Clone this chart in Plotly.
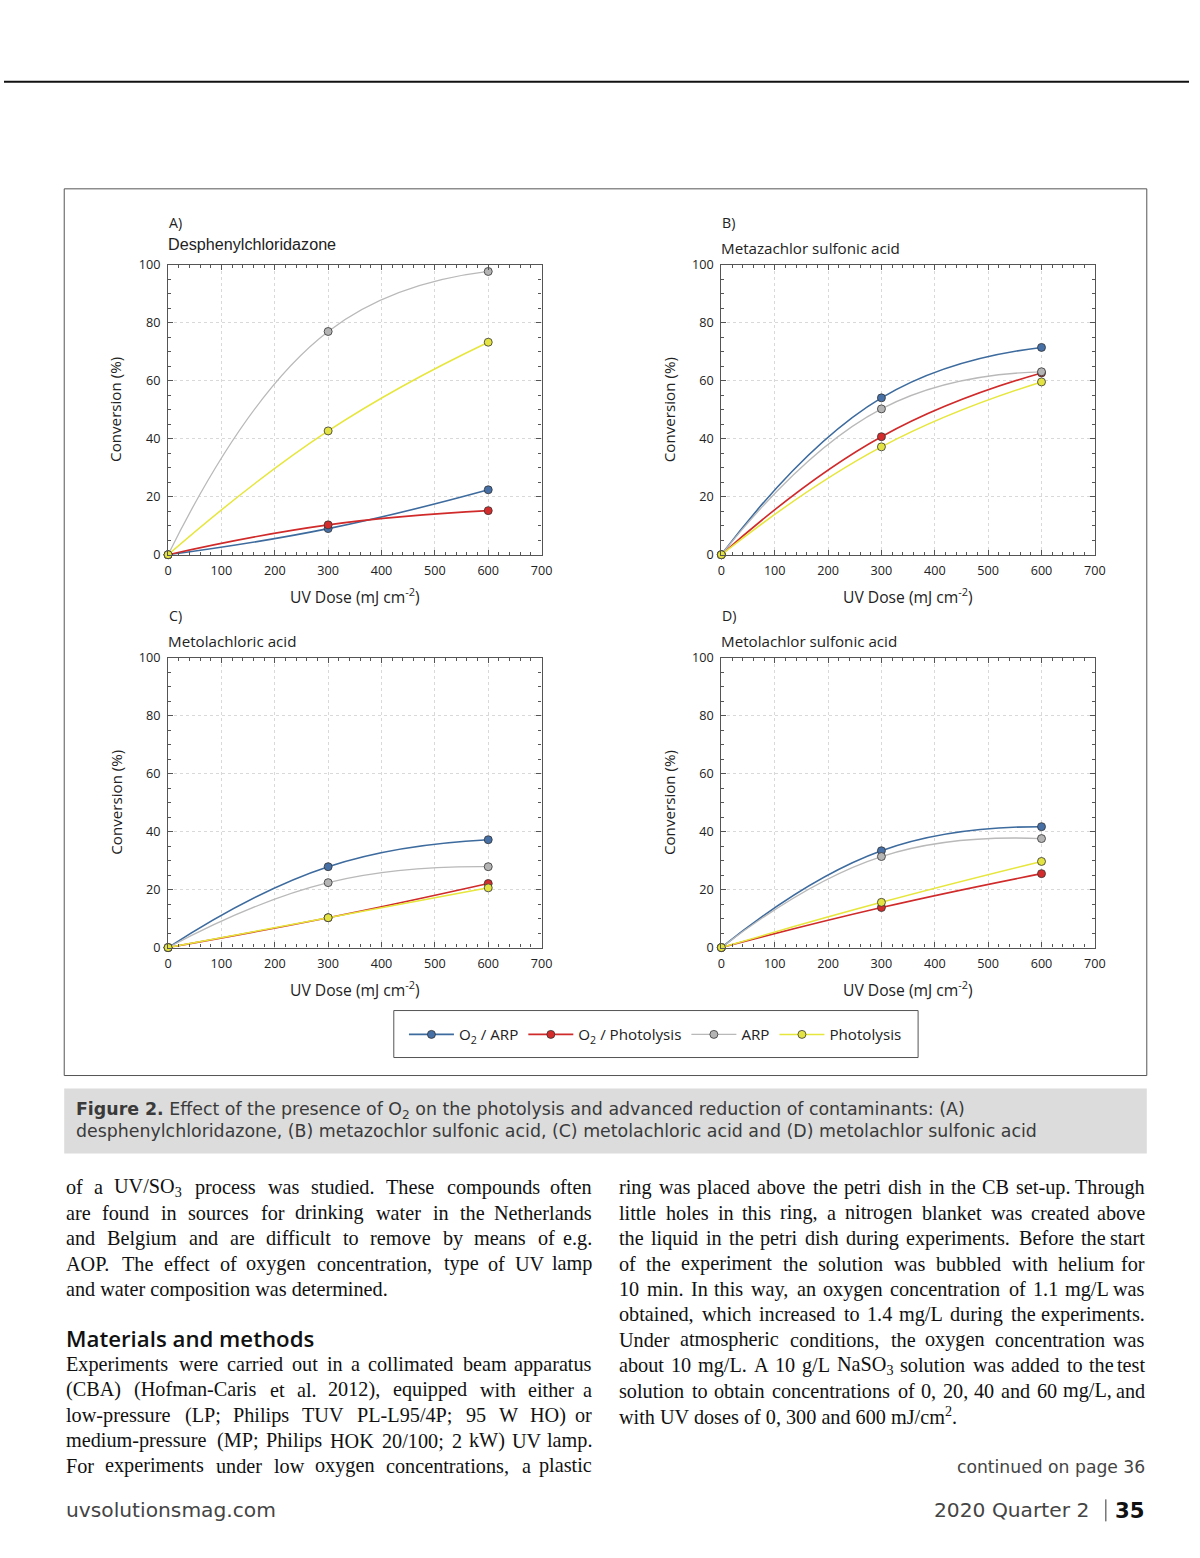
import re
import plotly.graph_objects as go

W, H = 1200, 1558

# ---------------- data ----------------
dose = [0, 300, 600]

series_names = ["O<sub>2</sub> / ARP", "O<sub>2</sub> / Photolysis", "ARP", "Photolysis"]

# Panel A: Desphenylchloridazone
a_o2_arp = [0, 9.0, 22.4]
a_o2_phot = [0, 10.3, 15.2]
a_arp = [0, 77.0, 97.7]
a_phot = [0, 42.7, 73.3]

# Panel B: Metazachlor sulfonic acid
b_o2_arp = [0, 54.1, 71.5]
b_o2_phot = [0, 40.7, 62.7]
b_arp = [0, 50.3, 63.1]
b_phot = [0, 37.2, 59.6]

# Panel C: Metolachloric acid
c_o2_arp = [0, 27.9, 37.2]
c_o2_phot = [0, 10.3, 22.1]
c_arp = [0, 22.4, 27.9]
c_phot = [0, 10.3, 20.6]

# Panel D: Metolachlor sulfonic acid
d_o2_arp = [0, 33.4, 41.7]
d_o2_phot = [0, 13.8, 25.5]
d_arp = [0, 31.4, 37.6]
d_phot = [0, 15.6, 29.7]

panel_letters = ["A)", "B)", "C)", "D)"]
panel_titles = ["Desphenylchloridazone", "Metazachlor sulfonic acid",
                "Metolachloric acid", "Metolachlor sulfonic acid"]

x_ticks = [0, 100, 200, 300, 400, 500, 600, 700]
y_ticks = [0, 20, 40, 60, 80, 100]

caption_line1 = ("<b>Figure 2.</b> Effect of the presence of O<sub>2</sub> on the photolysis "
                 "and advanced reduction of contaminants: (A)")
caption_line2 = ("desphenylchloridazone, (B) metazochlor sulfonic acid, (C) metolachloric acid "
                 "and (D) metolachlor sulfonic acid")

left_col_1 = [
    "of a UV/SO<sub>3</sub> process was studied. These compounds often",
    "are found in sources for drinking water in the Netherlands",
    "and Belgium and are difficult to remove by means of e.g.",
    "AOP. The effect of oxygen concentration, type of UV lamp",
    "and water composition was determined.",
]
heading = "Materials and methods"
left_col_2 = [
    "Experiments were carried out in a collimated beam apparatus",
    "(CBA) (Hofman-Caris et al. 2012), equipped with either a",
    "low-pressure (LP; Philips TUV PL-L95/4P; 95 W HO) or",
    "medium-pressure (MP; Philips HOK 20/100; 2 kW) UV lamp.",
    "For experiments under low oxygen concentrations, a plastic",
]
right_col = [
    "ring was placed above the petri dish in the CB set-up. Through",
    "little holes in this ring, a nitrogen blanket was created above",
    "the liquid in the petri dish during experiments. Before the start",
    "of the experiment the solution was bubbled with helium for",
    "10 min. In this way, an oxygen concentration of 1.1 mg/L was",
    "obtained, which increased to 1.4 mg/L during the experiments.",
    "Under atmospheric conditions, the oxygen concentration was",
    "about 10 mg/L. A 10 g/L NaSO<sub>3</sub> solution was added to the test",
    "solution to obtain concentrations of 0, 20, 40 and 60 mg/L, and",
    "with UV doses of 0, 300 and 600 mJ/cm<sup>2</sup>.",
]
continued = "continued on page 36"
footer_left = "uvsolutionsmag.com"
footer_right = "2020 Quarter 2"
page_no = "35"

# ---------------- page geometry helpers ----------------
# the photographed page is slightly scaled/offset; place things in target pixels
S, OX, OY = 0.9888, 2.7, 9.1

def px(x):
    return (x - OX) / S / W

def py(y):
    return 1 - (y - OY) / S / H

def fs(size):
    return size / S

colors = ["#3d6b9e", "#d02a2a", "#b9b9b9", "#e6e63c"]
mcolors = ["#4670a6", "#d42c2c", "#b4b4b4", "#e3e344"]
lwidths = [1.6, 1.6, 1.3, 1.5]

panels = [
    (a_o2_arp, a_o2_phot, a_arp, a_phot),
    (b_o2_arp, b_o2_phot, b_arp, b_phot),
    (c_o2_arp, c_o2_phot, c_arp, c_phot),
    (d_o2_arp, d_o2_phot, d_arp, d_phot),
]

# plot area pixel boxes (left, right, top, bottom)
boxes = [(167, 541, 264, 554), (721, 1095, 264, 554),
         (167, 541, 657, 947), (721, 1095, 657, 947)]

fig = go.Figure()

for i, vals in enumerate(panels):
    xa = "x" if i == 0 else f"x{i+1}"
    ya = "y" if i == 0 else f"y{i+1}"
    for j, v in enumerate(vals):
        fig.add_trace(go.Scatter(
            x=dose, y=v, xaxis=xa, yaxis=ya,
            mode="lines+markers", name=series_names[j],
            line=dict(color=colors[j], width=lwidths[j], shape="spline", smoothing=1.3),
            marker=dict(size=8, color=mcolors[j], line=dict(color="#333333", width=0.8)),
            cliponaxis=False, showlegend=(i == 0), legendrank=j,
        ))

axis_common = dict(
    showline=True, linecolor="#555555", linewidth=1.2, mirror="ticks",
    ticks="inside", ticklen=5, tickcolor="#555555", tickwidth=1,
    showgrid=True, gridcolor="#d9d9d9", griddash="dot", gridwidth=1,
    zeroline=False, tickfont=dict(family="Open Sans", size=fs(12.5), color="#222222"),
)

layout = dict(
    width=W, height=H, margin=dict(l=0, r=0, t=0, b=0),
    paper_bgcolor="white", plot_bgcolor="white", showlegend=True,
    legend=dict(orientation="h", x=px(655), y=py(1034), xanchor="center", yanchor="middle",
                borderwidth=0, bgcolor="rgba(0,0,0,0)",
                font=dict(family="Open Sans", size=fs(15), color="#222222"),
                itemwidth=45, tracegroupgap=0),
)

for i, (l, r, t, b) in enumerate(boxes):
    xk = "xaxis" if i == 0 else f"xaxis{i+1}"
    yk = "yaxis" if i == 0 else f"yaxis{i+1}"
    ya = "y" if i == 0 else f"y{i+1}"
    xa = "x" if i == 0 else f"x{i+1}"
    layout[xk] = dict(axis_common, domain=[px(l), px(r)], range=[0, 700],
                      tickvals=x_ticks, anchor=ya, ticklabelstandoff=4,
                      minor=dict(dtick=20, ticks="inside", ticklen=3, tickcolor="#555555",
                                 showgrid=False))
    layout[yk] = dict(axis_common, domain=[py(b), py(t)], range=[0, 100],
                      tickvals=y_ticks, anchor=xa, ticklabelstandoff=4,
                      minor=dict(dtick=5, ticks="inside", ticklen=3, tickcolor="#555555",
                                 showgrid=False))

fig.update_layout(**layout)

ann = []
def add_text(text, x, y, size, family="Open Sans", color="#222222", xanchor="left",
             yanchor="middle", textangle=0, weight="normal"):
    ann.append(dict(text=text, x=px(x), y=py(y), xref="paper", yref="paper",
                    showarrow=False, xanchor=xanchor, yanchor=yanchor, textangle=textangle,
                    font=dict(family=family, size=fs(size), color=color, weight=weight)))

title_fonts = ["Liberation Sans", "Open Sans", "Open Sans", "Open Sans"]
title_sizes = [16, 15, 15, 15]
title_dy = [21, 17, 17, 17]
for i, (l, r, t, b) in enumerate(boxes):
    add_text(panel_letters[i], l - 1, t - 42, 14)
    add_text(panel_titles[i], l - 2, t - title_dy[i], title_sizes[i], family=title_fonts[i])
    add_text("UV Dose (mJ cm<sup>-2</sup>)", (l + r) / 2, b + 41, 15.5, xanchor="center")
    add_text("Conversion (%)", l - 53, (t + b) / 2, 15, xanchor="center", textangle=-90)

# caption
cap_font = "DejaVu Sans"
add_text(caption_line1, 73, 1110, 17.2, family=cap_font, color="#3a3a3a")
add_text(caption_line2, 73, 1131, 17.2, family=cap_font, color="#3a3a3a")

# ---- justified body text (Times / Liberation Serif metrics, per 1000 em) ----
TW = {' ': 250, '(': 333, ')': 333, ',': 250, '-': 333, '.': 250, '/': 278, ':': 278,
      ';': 278, "'": 333}
for ch in "0123456789":
    TW[ch] = 500
TW.update(dict(zip("ABCDEFGHIJKLMNOPQRSTUVWXYZ",
                   [722, 667, 667, 722, 611, 556, 722, 722, 333, 389, 722, 611, 889,
                    722, 722, 556, 722, 667, 556, 611, 722, 722, 944, 722, 722, 611])))
TW.update(dict(zip("abcdefghijklmnopqrstuvwxyz",
                   [444, 500, 444, 500, 444, 333, 500, 500, 278, 278, 500, 278, 778,
                    500, 500, 500, 500, 333, 389, 278, 500, 500, 722, 500, 500, 444])))
RENDER_FACTOR = 1.035

def word_width(word, size):
    total = 0.0
    parts = re.split(r"(<su[bp]>.*?</su[bp]>)", word)
    for p in parts:
        m = re.match(r"<su[bp]>(.*?)</su[bp]>", p)
        if m:
            total += sum(TW.get(c, 500) for c in m.group(1)) * 0.7
        else:
            total += sum(TW.get(c, 500) for c in p)
    return total * size / 1000.0 * RENDER_FACTOR

serif = "Liberation Serif"
body_size = 20
body_color = "#111111"
col_w = 530

def body_line(line, x0, y, justify):
    words = line.split(" ")
    if not justify or len(words) < 2:
        add_text(line, x0, y, body_size, family=serif, color=body_color)
        return
    widths = [word_width(w, body_size) for w in words]
    gap = (col_w - sum(widths)) / (len(words) - 1)
    if gap < 2:
        add_text(line, x0, y, body_size, family=serif, color=body_color)
        return
    x = x0
    for k, w in enumerate(words):
        if k == len(words) - 1:
            add_text(w, x0 + col_w, y, body_size, family=serif, color=body_color, xanchor="right")
        else:
            add_text(w, x, y, body_size, family=serif, color=body_color)
        x += widths[k] + gap

ls = 25.4
for k, line in enumerate(left_col_1):
    body_line(line, 63, 1187 + k * ls, justify=(k < len(left_col_1) - 1))
add_text(heading, 63, 1338, 22, family="Open Sans", color="#111111", weight=600)
for k, line in enumerate(left_col_2):
    body_line(line, 63, 1364 + k * ls, justify=True)
for k, line in enumerate(right_col):
    body_line(line, 617, 1187 + k * ls, justify=(k < len(right_col) - 1))

add_text(continued, 1147, 1467, 17, family=cap_font, color="#444444", xanchor="right")
add_text(footer_left, 63, 1510, 20, family=cap_font, color="#444444")
add_text(footer_right, 1091, 1510, 20, family=cap_font, color="#444444", xanchor="right")
add_text("<b>" + page_no + "</b>", 1147, 1510, 21, family=cap_font, color="#111111",
         xanchor="right")

fig.update_layout(annotations=ann)

shapes = [
    dict(type="line", xref="paper", yref="paper", x0=0, x1=1, y0=py(81), y1=py(81),
         line=dict(color="#111111", width=2)),
    dict(type="rect", xref="paper", yref="paper", x0=px(63), x1=px(1147), y0=py(1075), y1=py(188),
         line=dict(color="#555555", width=1), layer="below"),
    dict(type="rect", xref="paper", yref="paper", x0=px(63), x1=px(1147), y0=py(1153), y1=py(1088),
         line=dict(width=0), fillcolor="#dcdcdc", layer="below"),
    dict(type="rect", xref="paper", yref="paper", x0=px(393), x1=px(918), y0=py(1057), y1=py(1010),
         line=dict(color="#555555", width=1), fillcolor="white", layer="below"),
    dict(type="line", xref="paper", yref="paper", x0=px(1106), x1=px(1106), y0=py(1499), y1=py(1521),
         line=dict(color="#333333", width=1)),
]
fig.update_layout(shapes=shapes)

post = ("document.documentElement.style.margin='0';"
        "document.body.style.margin='0';")

fig.write_html("out.html", config={"displayModeBar": False}, post_script=post)
